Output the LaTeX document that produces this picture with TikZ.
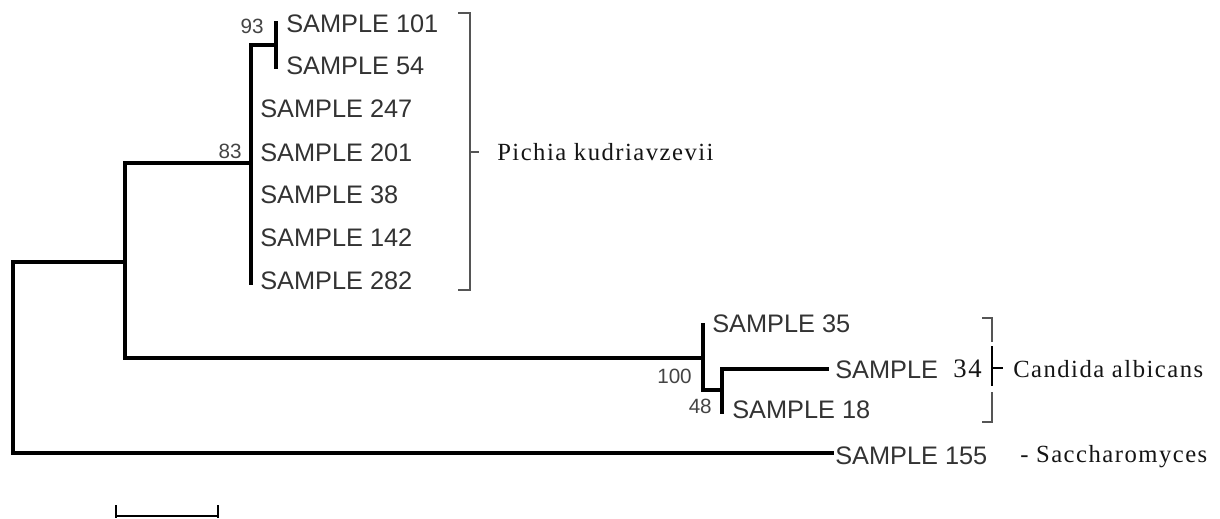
\documentclass[tikz,border=0pt]{standalone}
\usepackage{fontspec}
\setmainfont{Liberation Serif}
\newfontfamily\arialf{Liberation Sans}
\newfontfamily\serifsp[LetterSpace=6]{Liberation Serif}
\definecolor{labgray}{HTML}{333333}
\definecolor{bootgray}{HTML}{444444}
\definecolor{brkgray}{HTML}{555555}
\definecolor{txtdark}{HTML}{151515}
\begin{document}
\begin{tikzpicture}[x=0.75pt,y=-0.75pt,
  tree/.style={line width=2.3pt, black, line cap=rect},
  thickbr/.style={line width=3.5pt, black, line cap=rect},
  brk/.style={line width=1.5pt, brkgray},
  lab/.style={anchor=base west, inner sep=0pt, text=labgray, font=\arialf\fontsize{19}{21}\selectfont},
  boot/.style={anchor=base east, inner sep=0pt, text=bootgray, font=\arialf\fontsize{15.5}{17}\selectfont},
  taxon/.style={anchor=base west, inner sep=0pt, text=txtdark, font=\serifsp\fontsize{18.5}{20}\selectfont}]
\path[use as bounding box] (0,0) rectangle (1220,518);
\fill[white] (0,0) rectangle (1220,518);

% leaves
\node[lab] (s101) at (286,32) {SAMPLE 101};
\node[lab] (s54)  at (286,74) {SAMPLE 54};
\node[lab] (s247) at (260,117) {SAMPLE 247};
\node[lab] (s201) at (260,161) {SAMPLE 201};
\node[lab] (s38)  at (260,203) {SAMPLE 38};
\node[lab] (s142) at (260,246) {SAMPLE 142};
\node[lab] (s282) at (260,289) {SAMPLE 282};
\node[lab] (s35)  at (712,332) {SAMPLE 35};
\node[lab] (s34)  at (835,378) {SAMPLE};
\node[lab] (s18)  at (732,418) {SAMPLE 18};
\node[lab] (s155) at (835,464) {SAMPLE 155};

% internal nodes
\coordinate (rtop) at (13,262);
\coordinate (rbot) at (13,453);
\coordinate (amid) at (125,262);
\coordinate (atop) at (125,163);
\coordinate (abot) at (125,358);
\coordinate (pjoin) at (251,163);
\coordinate (ptop) at (251,45);
\coordinate (pbot) at (251,283);
\coordinate (qjoin) at (276,45);
\coordinate (qtop) at (276,23);
\coordinate (qbot) at (276,67);
\coordinate (cjoin) at (703,358);
\coordinate (ctop) at (703,325);
\coordinate (cbot) at (703,390);
\coordinate (djoin) at (722,390);
\coordinate (dtop) at (722,369);
\coordinate (dbot) at (722,412);
\coordinate (e34) at (827,369);
\coordinate (e155) at (832,453);

% tree
\draw[tree] (rtop) -- (rbot);
\draw[tree] (rtop) -- (amid);
\draw[tree] (atop) -- (abot);
\draw[tree] (atop) -- (pjoin);
\draw[tree] (ptop) -- (pbot);
\draw[tree] (ptop) -- (qjoin);
\draw[tree] (qtop) -- (qbot);
\draw[thickbr] (abot) -- (cjoin);
\draw[tree] (ctop) -- (cbot);
\draw[tree] (cbot) -- (djoin);
\draw[tree] (dtop) -- (dbot);
\draw[tree] (dtop) -- (e34);
\draw[tree] (rbot) -- (e155);

% bootstrap values
\node[boot] (b93)  at (264,33) {93};
\node[boot] (b83)  at (242,158) {83};
\node[boot] (b100) at (692,383) {100};
\node[boot] (b48)  at (712,413) {48};

% Pichia bracket
\coordinate (pk1) at (458,13);
\coordinate (pk2) at (470,13);
\coordinate (pk3) at (470,290);
\coordinate (pk4) at (458,290);
\coordinate (pkm) at (470,152);
\coordinate (pkt) at (479,152);
\draw[brk] (pk1) -- (pk2) -- (pk3) -- (pk4);
\draw[brk] (pkm) -- (pkt);
\node[taxon] (pich) at (497,160) {Pichia kudriavzevii};

% Candida bracket
\coordinate (ca1) at (982,318);
\coordinate (ca2) at (992,318);
\coordinate (ca3) at (992,342);
\coordinate (ca4) at (992,346);
\coordinate (ca5) at (992,386);
\coordinate (cam) at (992,368);
\coordinate (cat) at (1003,368);
\coordinate (ca6) at (992,392);
\coordinate (ca7) at (992,422);
\coordinate (ca8) at (982,422);
\draw[brk] (ca1) -- (ca2) -- (ca3);
\draw[line width=1.5pt, black] (ca4) -- (ca5);
\draw[line width=1.5pt, black] (cam) -- (cat);
\draw[brk] (ca6) -- (ca7) -- (ca8);
\node[anchor=base east, inner sep=0pt, text=txtdark, font=\serifsp\fontsize{20}{22}\selectfont] (n34) at (982,377) {34};
\node[taxon] (cand) at (1013,377) {Candida albicans};

% Saccharomyces
\node[taxon] (sacc) at (1020,462) {- Saccharomyces};

% scale bar
\coordinate (sb1) at (116,516);
\coordinate (sb2) at (218,516);
\coordinate (sb1t) at (116,505);
\coordinate (sb2t) at (218,505);
\coordinate (sb1b) at (116,518);
\coordinate (sb2b) at (218,518);
\draw[line width=2.2pt, black] (sb1) -- (sb2);
\draw[line width=1.8pt, black] (sb1t) -- (sb1b);
\draw[line width=1.8pt, black] (sb2t) -- (sb2b);
\end{tikzpicture}
\end{document}
